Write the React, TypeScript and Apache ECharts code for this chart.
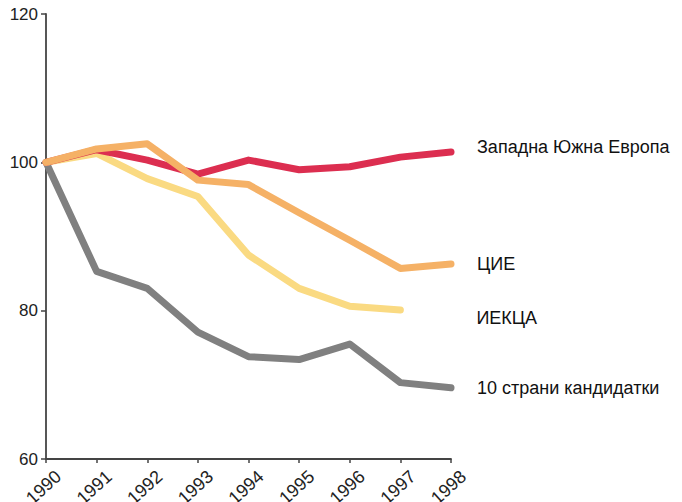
import React, { useEffect, useRef } from "react";
import * as echarts from "echarts";

const years = ["1990", "1991", "1992", "1993", "1994", "1995", "1996", "1997", "1998"];
const candidates10 = [100, 85.3, 83.0, 77.1, 73.8, 73.4, 75.5, 70.3, 69.6];
const ieKca = [100, 101.2, 97.8, 95.4, 87.5, 83.0, 80.6, 80.1, null];
const westSouthEurope = [100, 101.7, 100.3, 98.4, 100.3, 99.0, 99.4, 100.7, 101.4];
const cie = [100, 101.8, 102.5, 97.6, 97.0, 93.2, 89.5, 85.7, 86.3];

const FONT = "'Liberation Sans', Arial, sans-serif";

export default function App() {
  const ref = useRef<HTMLDivElement>(null);
  useEffect(() => {
    if (!ref.current) return;
    const chart = echarts.init(ref.current, null, { renderer: "svg" });
    const mk = (name: string, data: (number | null)[], color: string, dist: number, dy: number) => ({
      name,
      type: "line",
      data,
      symbol: "none",
      connectNulls: false,
      lineStyle: { color, width: 7, cap: "round", join: "round" },
      endLabel: {
        show: true,
        formatter: name,
        distance: dist,
        offset: [0, dy],
        color: "#111",
        fontSize: 18,
        fontFamily: FONT,
      },
    });
    chart.setOption({
      animation: false,
      grid: { left: 46, right: 231, top: 14, bottom: 43, containLabel: false, outerBoundsMode: "none" },
      xAxis: {
        type: "category",
        data: years,
        boundaryGap: false,
        axisLine: { lineStyle: { color: "#444", width: 1.8 } },
        axisTick: { show: true, alignWithLabel: true, length: 4, lineStyle: { color: "#444", width: 1.5 } },
        axisLabel: {
          rotate: 42,
          color: "#222",
          fontSize: 18,
          fontFamily: FONT,
          margin: 10,
          verticalAlign: "top",
          padding: [3, -6, 0, 0],
        },
      },
      yAxis: {
        type: "value",
        min: 60,
        max: 120,
        interval: 20,
        splitLine: { show: false },
        axisLine: { show: true, lineStyle: { color: "#444", width: 1.8 } },
        axisTick: { show: true, length: 5, lineStyle: { color: "#444", width: 1.5 } },
        axisLabel: { color: "#222", fontSize: 17, fontFamily: FONT, margin: 8 },
      },
      series: [
        mk("10 страни кандидатки", candidates10, "#808080", 26, 0),
        mk("ИЕКЦА", ieKca, "#FADA82", 76, 8),
        mk("Западна Южна Европа", westSouthEurope, "#DC2E50", 26, -5),
        mk("ЦИЕ", cie, "#F5B166", 26, 0),
      ],
    });
    return () => chart.dispose();
  }, []);
  return <div ref={ref} style={{ width: 682, height: 502, position: "absolute", left: 0, top: 0 }} />;
}
